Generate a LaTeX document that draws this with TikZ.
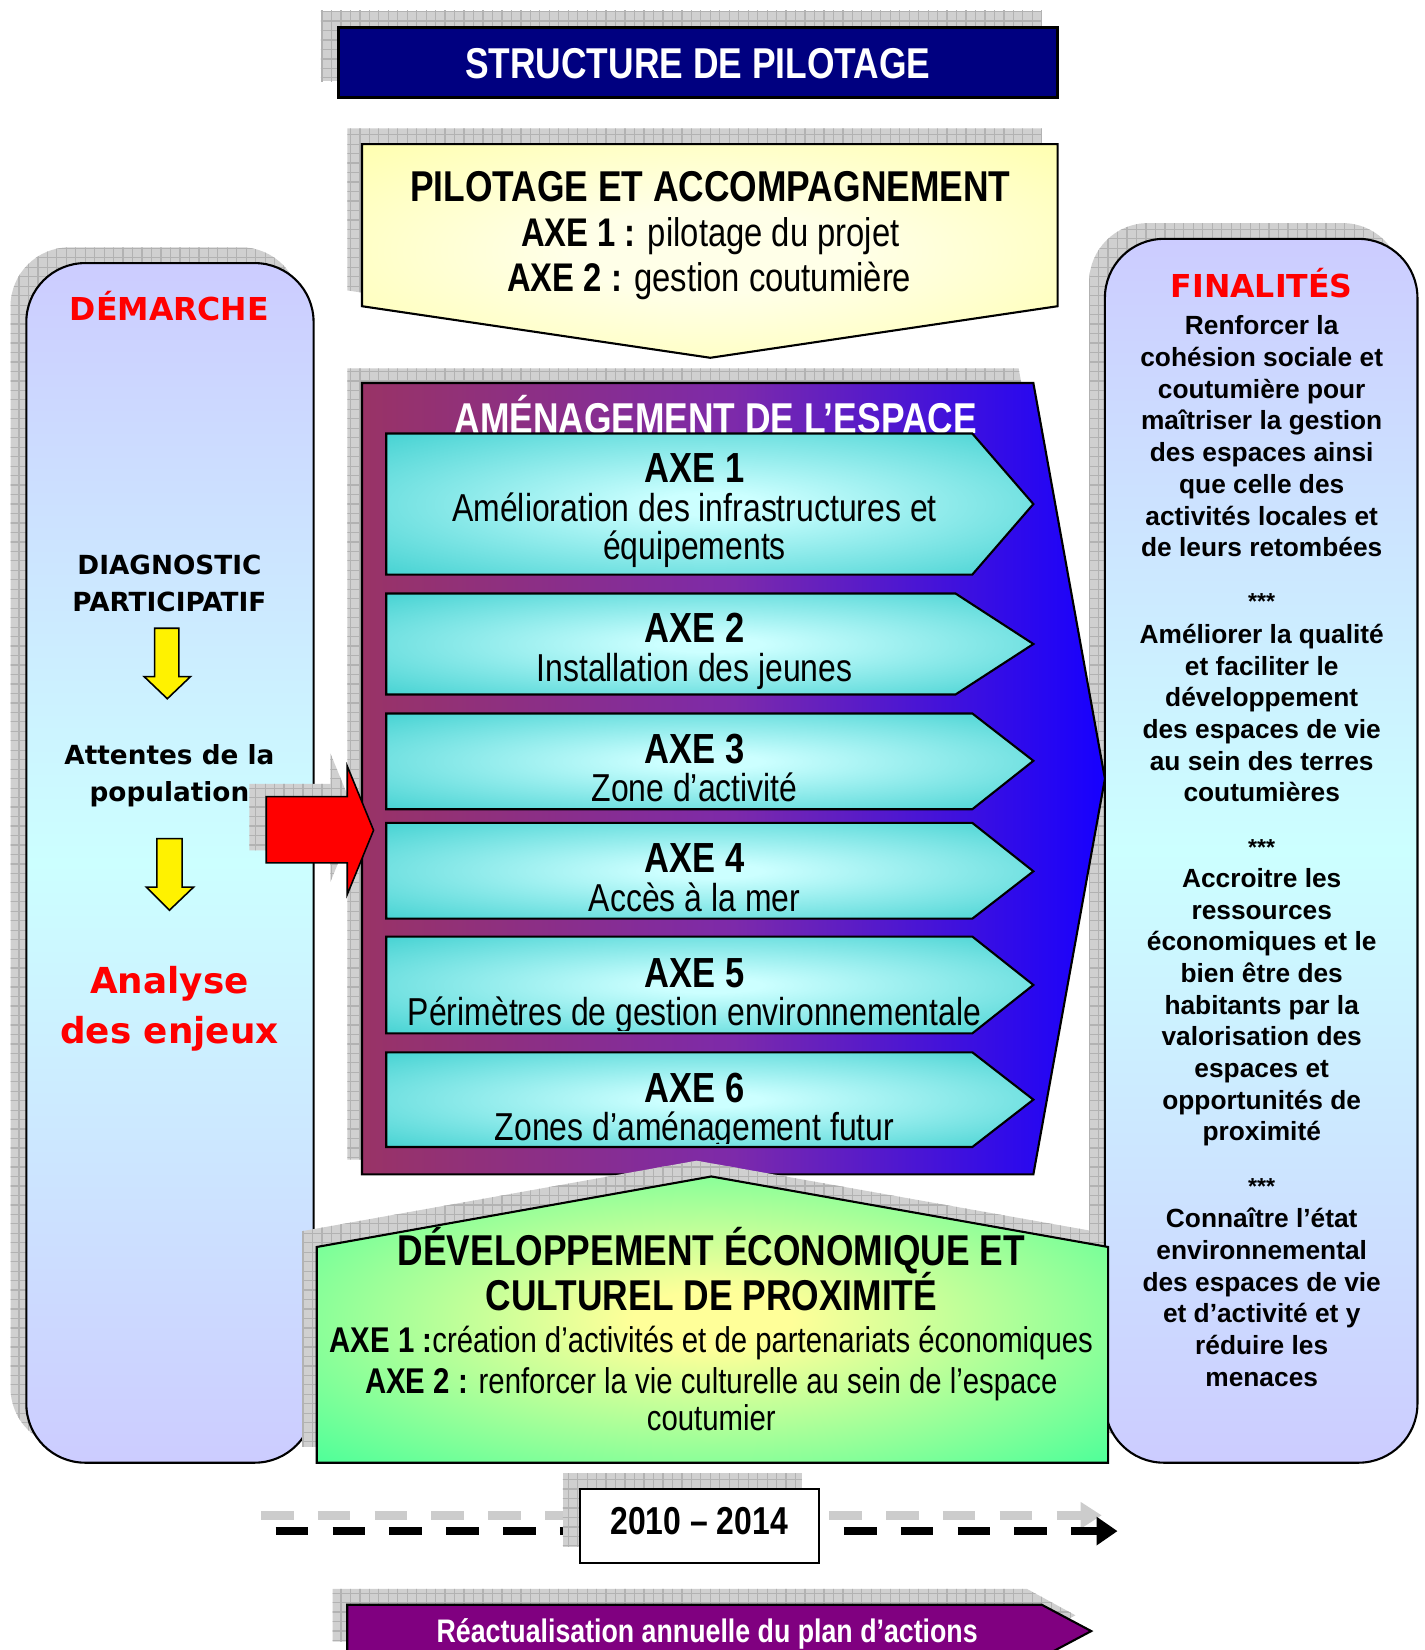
\documentclass[tikz,border=0pt]{standalone}
\usepackage{fontspec}
\setmainfont{Liberation Sans}
\newfontfamily\narrowfont{Liberation Sans}[FakeStretch=0.82]
\newfontfamily\heavyfont{DejaVu Sans}
\usepackage{tikz}
\usetikzlibrary{positioning,arrows.meta,patterns}

\definecolor{navybox}{RGB}{0,0,128}
\definecolor{pilotyellow}{RGB}{255,255,153}
\definecolor{pilotlight}{RGB}{255,255,232}
\definecolor{lavender}{RGB}{204,204,255}
\definecolor{palecyan}{RGB}{204,255,255}
\definecolor{plum}{RGB}{153,51,102}
\definecolor{violetmid}{RGB}{125,42,170}
\definecolor{deepblue}{RGB}{22,0,255}
\definecolor{axeteal}{RGB}{51,204,204}
\definecolor{axelight}{RGB}{204,255,255}
\definecolor{devgreen}{RGB}{51,255,153}
\definecolor{devyellow}{RGB}{255,255,153}
\definecolor{actionpurple}{RGB}{128,0,128}
\definecolor{shadowgray}{RGB}{208,208,208}

\pgfdeclareradialshading{axeglow}{\pgfpointorigin}{color(0bp)=(axelight); color(4bp)=(axelight); color(40bp)=(axeteal); color(60bp)=(axeteal)}
\pgfdeclareradialshading{pilotglow}{\pgfpointorigin}{color(0bp)=(pilotlight); color(10bp)=(pilotlight); color(46bp)=(pilotyellow); color(60bp)=(pilotyellow)}
\pgfdeclareradialshading{devglow}{\pgfpointorigin}{color(0bp)=(devyellow); color(5bp)=(devyellow); color(40bp)=(devgreen); color(60bp)=(devgreen)}

\pgfdeclarepatternformonly{shadowgrid}{\pgfqpoint{-1pt}{-1pt}}{\pgfqpoint{10pt}{10pt}}{\pgfqpoint{9pt}{9pt}}{%
  \pgfsetlinewidth{1.2pt}%
  \pgfpathmoveto{\pgfqpoint{0pt}{0pt}}\pgfpathlineto{\pgfqpoint{9pt}{0pt}}%
  \pgfpathmoveto{\pgfqpoint{0pt}{0pt}}\pgfpathlineto{\pgfqpoint{0pt}{9pt}}%
  \pgfusepath{stroke}}

\begin{document}
\begin{tikzpicture}[x=1pt,y=-1pt,
  shadowfill/.style={fill=shadowgray, postaction={pattern=shadowgrid, pattern color=gray!60}},
  outline/.style={draw=black, line width=2pt, line join=miter},
  panel/.style={outline, rounded corners=56pt, top color=lavender, bottom color=lavender, middle color=palecyan},
  axebox/.style={outline, shading=axeglow},
  blockarrow/.style={draw=black, line width=1.5pt, line join=miter},
  titletext/.style={inner sep=0pt, text=white, text height=29.5pt, text depth=0pt,
                    font=\narrowfont\bfseries\fontsize{41pt}{49pt}\selectfont},
  headtext/.style={inner sep=0pt, text height=29.5pt, text depth=0pt,
                   font=\narrowfont\bfseries\fontsize{41pt}{49pt}\selectfont},
  pilottext/.style={inner sep=0pt, text height=27.4pt, text depth=8pt,
                    font=\narrowfont\fontsize{38pt}{45pt}\selectfont},
  axehead/.style={inner sep=0pt, text height=28.8pt, text depth=0pt,
                  font=\narrowfont\bfseries\fontsize{40pt}{48pt}\selectfont},
  axetext/.style={inner sep=0pt, text height=26.6pt, text depth=7.8pt,
                  font=\narrowfont\fontsize{37pt}{44pt}\selectfont},
  devtext/.style={inner sep=0pt, text height=24.5pt, text depth=7.1pt,
                  font=\narrowfont\fontsize{34pt}{41pt}\selectfont},
  redhead/.style={inner sep=0pt, text=red, text height=21.9pt, text depth=0pt,
                  font=\heavyfont\bfseries\fontsize{30pt}{36pt}\selectfont},
  steptext/.style={inner sep=0pt, align=center, anchor=north,
                   font=\heavyfont\bfseries\fontsize{25pt}{35pt}\selectfont},
  fintext/.style={inner sep=0pt, align=center, anchor=north,
                  font=\bfseries\fontsize{25pt}{30.1pt}\selectfont},
  stars/.style={inner sep=0pt, font=\bfseries\fontsize{22pt}{24pt}\selectfont}
]
  \useasboundingbox (0,0) rectangle (1354,1568);

  % side panels
  \fill[shadowfill, rounded corners=56pt] (10,235) rectangle (285,1375);
  \fill[shadowfill, rounded corners=56pt] (1035,212) rectangle (1332,1375);
  \path[panel] (25,250) rectangle (298,1390);
  \path[panel] (1050,227) rectangle (1347,1390);

  \node[redhead] (demarche) at (161,294) {DÉMARCHE};
  \node[steptext] (diag) at (161,527) {DIAGNOSTIC\\PARTICIPATIF};
  \node[steptext] (attentes) at (161,707) {Attentes de la\\population};
  \node[steptext, text=red, font=\heavyfont\bfseries\fontsize{34pt}{48pt}\selectfont] (enjeux) at (161,918) {Analyse\\des enjeux};
  \draw[blockarrow, fill=yellow] (147,597) -- (170,597) -- (170,643) -- (181,643) -- (159,664) -- (137,643) -- (147,643) -- cycle;
  \draw[blockarrow, fill=yellow] (149,797) -- (173,797) -- (173,843) -- (184,843) -- (161,865) -- (139,843) -- (149,843) -- cycle;

  \node[redhead] (finalites) at (1199,272) {FINALITÉS};
  \node[fintext] (fin1) at (1199,300) {Renforcer la\\cohésion sociale et\\coutumière pour\\maîtriser la gestion\\des espaces ainsi\\que celle des\\activités locales et\\de leurs retombées};
  \node[stars] (sep1) at (1199,572) {***};
  \node[fintext] (fin2) at (1199,593) {Améliorer la qualité\\et faciliter le\\développement\\des espaces de vie\\au sein des terres\\coutumières};
  \node[stars] (sep2) at (1199,805) {***};
  \node[fintext] (fin3) at (1199,825) {Accroitre les\\ressources\\économiques et le\\bien être des\\habitants par la\\valorisation des\\espaces et\\opportunités de\\proximité};
  \node[stars] (sep3) at (1199,1128) {***};
  \node[fintext] (fin4) at (1199,1148) {Connaître l’état\\environnemental\\des espaces de vie\\et d’activité et y\\réduire les\\menaces};

  % structure de pilotage
  \fill[shadowfill] (305,10) rectangle (990,77);
  \draw[outline, line width=3pt, fill=navybox] (322,26) rectangle (1005,93);
  \node[titletext] (title) at (663,60) {STRUCTURE DE PILOTAGE};

  \fill[shadowfill] (330,122) -- (990,122) -- (990,276) -- (661,325) -- (330,276) -- cycle;
  \shadedraw[outline, shading=pilotglow] (344,137) -- (1005,137) -- (1005,291) -- (675,340) -- (344,291) -- cycle;
  \node[headtext] (pilothead) at (675,177) {PILOTAGE ET ACCOMPAGNEMENT};
  \node[pilottext] (pilotax1) at (675,225) {\textbf{AXE 1 :} pilotage du projet};
  \node[pilottext] (pilotax2) at (674,267) {\textbf{AXE 2 :} gestion coutumière};

  % amenagement de l'espace
  \fill[shadowfill] (330,350) -- (968,350) -- (1036,726) -- (968,1102) -- (330,1102) -- cycle;
  \draw[outline, left color=plum, right color=deepblue, middle color=violetmid]
    (344,364) -- (982,364) -- (1050,740) -- (982,1116) -- (344,1116) -- cycle;
  \node[titletext] (amenag) at (680,397) {AMÉNAGEMENT DE L’ESPACE};

  \shadedraw[axebox] (367,412) -- (924,412) -- (982,479) -- (924,546) -- (367,546) -- cycle;
  \node[axehead] (ax1) at (660,444) {AXE 1};
  \node[axetext, below=10.5pt of ax1] (ax1a) {Amélioration des infrastructures et};
  \node[axetext, below=0.6pt of ax1a] (ax1b) {équipements};

  \shadedraw[axebox] (367,564) -- (908,564) -- (982,612) -- (908,660) -- (367,660) -- cycle;
  \node[axehead] (ax2) at (660,596) {AXE 2};
  \node[axetext, below=10.5pt of ax2] (ax2a) {Installation des jeunes};

  \shadedraw[axebox] (367,678) -- (924,678) -- (982,723) -- (924,769) -- (367,769) -- cycle;
  \node[axehead] (ax3) at (660,711) {AXE 3};
  \node[axetext, below=9.5pt of ax3] (ax3a) {Zone d’activité};

  \shadedraw[axebox] (367,782) -- (924,782) -- (982,828) -- (924,873) -- (367,873) -- cycle;
  \node[axehead] (ax4) at (660,815) {AXE 4};
  \node[axetext, below=9.5pt of ax4] (ax4a) {Accès à la mer};

  \shadedraw[axebox] (367,890) -- (924,890) -- (982,936) -- (924,982) -- (367,982) -- cycle;
  \node[axehead] (ax5) at (660,924) {AXE 5};
  \begin{scope}
    \clip (367,890) rectangle (990,979);
    \node[axetext, below=9.5pt of ax5] (ax5a) {Périmètres de gestion environnementale};
  \end{scope}

  \shadedraw[axebox] (367,1000) -- (924,1000) -- (982,1045) -- (924,1090) -- (367,1090) -- cycle;
  \node[axehead] (ax6) at (660,1033) {AXE 6};
  \begin{scope}
    \clip (367,1000) rectangle (990,1087);
    \node[axetext, below=9.5pt of ax6] (ax6a) {Zones d’aménagement futur};
  \end{scope}

  % fleche rouge
  \fill[shadowfill] (237,745) -- (314,745) -- (314,716) -- (339,777) -- (314,838) -- (314,808) -- (237,808) -- cycle;
  \draw[blockarrow, fill=red] (253,757) -- (330,757) -- (330,728) -- (355,789) -- (330,850) -- (330,820) -- (253,820) -- cycle;

  % developpement economique
  \fill[shadowfill] (287,1170) -- (662,1103) -- (1039,1170) -- (1039,1375) -- (287,1375) -- cycle;
  \shadedraw[outline, shading=devglow] (301,1185) -- (676,1118) -- (1053,1185) -- (1053,1390) -- (301,1390) -- cycle;
  \node[headtext] (devhead1) at (676,1188) {DÉVELOPPEMENT ÉCONOMIQUE ET};
  \node[headtext] (devhead2) at (676,1231) {CULTUREL DE PROXIMITÉ};
  \node[devtext] (devax1) at (676,1277) {\textbf{AXE 1 :}création d’activités et de partenariats économiques};
  \node[devtext] (devax2) at (676,1316) {\textbf{AXE 2 :} renforcer la vie culturelle au sein de l’espace};
  \node[devtext] (devax2b) at (676,1351) {coutumier};

  % frise
  \coordinate (tlshadowstart) at (248,1440);
  \coordinate (tlshadowend) at (1047,1440);
  \coordinate (tlstart) at (262,1455);
  \coordinate (tlend) at (1062,1455);
  \draw[gray!40, line width=8pt, dash pattern=on 31pt off 23pt, -{Triangle[length=20pt,width=24pt]}] (tlshadowstart) -- (tlshadowend);
  \draw[black, line width=8pt, dash pattern=on 31pt off 23pt, -{Triangle[length=20pt,width=26pt]}] (tlstart) -- (tlend);
  \fill[shadowfill] (535,1400) rectangle (762,1470);
  \node[draw, line width=2pt, fill=white, minimum width=227pt, minimum height=70pt, inner sep=0pt,
        text height=26.6pt, text depth=10pt, font=\narrowfont\bfseries\fontsize{37pt}{44pt}\selectfont]
        (period) at (664.5,1450) {2010 – 2014};

  % mise a jour
  \fill[shadowfill] (316,1510) -- (976,1510) -- (1022,1535) -- (976,1560) -- (316,1560) -- cycle;
  \draw[outline, fill=actionpurple] (330,1525) -- (990,1525) -- (1037,1550) -- (990,1575) -- (330,1575) -- cycle;
  \node[inner sep=0pt, text=white, text height=22.3pt, text depth=6.5pt,
        font=\narrowfont\bfseries\fontsize{31pt}{37pt}\selectfont] (update) at (672,1553) {Réactualisation annuelle du plan d’actions};
\end{tikzpicture}
\end{document}
